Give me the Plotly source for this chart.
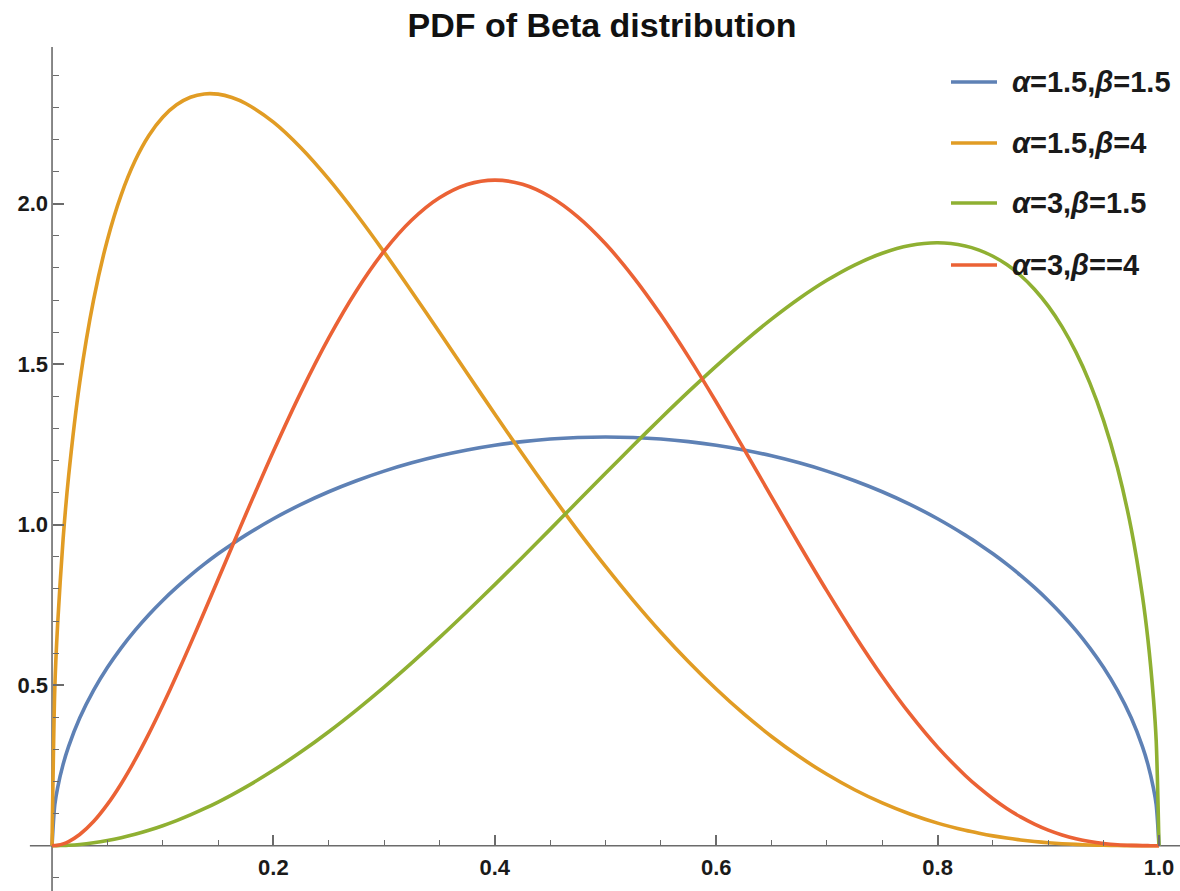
import plotly.graph_objects as go

# ---------------- data ----------------
x_vals = [0, 0.0025, 0.005, 0.01, 0.015, 0.025, 0.0375, 0.05, 0.0625, 0.075, 0.0875, 0.1,
          0.1125, 0.125, 0.1375, 0.15, 0.1625, 0.175, 0.2, 0.225, 0.25, 0.275, 0.3, 0.325,
          0.35, 0.375, 0.4, 0.425, 0.45, 0.475, 0.5, 0.525, 0.55, 0.575, 0.6, 0.625, 0.65,
          0.675, 0.7, 0.725, 0.75, 0.775, 0.8, 0.825, 0.8375, 0.85, 0.8625, 0.875, 0.8875,
          0.9, 0.9125, 0.925, 0.9375, 0.95, 0.9625, 0.975, 0.985, 0.99, 0.995, 0.9975, 1.0]

pdf_a15_b15 = [0, 0.1272, 0.1796, 0.2534, 0.3095, 0.3976, 0.4838, 0.5550, 0.6164, 0.6707,
               0.7196, 0.7640, 0.8046, 0.8422, 0.8770, 0.9093, 0.9394, 0.9676, 1.0186, 1.0634,
               1.1027, 1.1370, 1.1669, 1.1927, 1.2146, 1.2328, 1.2475, 1.2588, 1.2669, 1.2716,
               1.2732, 1.2716, 1.2669, 1.2588, 1.2475, 1.2328, 1.2146, 1.1927, 1.1669, 1.1370,
               1.1027, 1.0634, 1.0186, 0.9676, 0.9394, 0.9093, 0.8770, 0.8422, 0.8046, 0.7640,
               0.7196, 0.6707, 0.6164, 0.5550, 0.4838, 0.3976, 0.3095, 0.2534, 0.1796, 0.1272, 0]

pdf_a15_b4 = [0, 0.4885, 0.6857, 0.9551, 1.1522, 1.4426, 1.6997, 1.8872, 2.0278, 2.1336,
              2.2124, 2.2693, 2.3080, 2.3315, 2.3420, 2.3413, 2.3310, 2.3123, 2.2540, 2.1735,
              2.0764, 1.9672, 1.8493, 1.7259, 1.5993, 1.4717, 1.3448, 1.2200, 1.0986, 0.9817,
              0.8701, 0.7644, 0.6652, 0.5730, 0.4880, 0.4104, 0.3403, 0.2776, 0.2224, 0.1743,
              0.1332, 0.0987, 0.0704, 0.0479, 0.0387, 0.0306, 0.0238, 0.0180, 0.0132, 0.0093,
              0.0063, 0.0040, 0.0023, 0.0012, 0.0005, 0.0002, 0, 0, 0, 0, 0]

pdf_a3_b15 = [0, 0.0000, 0.0002, 0.0007, 0.0015, 0.0040, 0.0091, 0.0160, 0.0248, 0.0355,
              0.0480, 0.0623, 0.0782, 0.0959, 0.1152, 0.1361, 0.1586, 0.1825, 0.2348, 0.2925,
              0.3552, 0.4226, 0.4941, 0.5695, 0.6481, 0.7296, 0.8133, 0.8988, 0.9855, 1.0728,
              1.1601, 1.2466, 1.3317, 1.4145, 1.4942, 1.5698, 1.6403, 1.7046, 1.7613, 1.8089,
              1.8457, 1.8697, 1.8783, 1.8685, 1.8555, 1.8363, 1.8103, 1.7764, 1.7337, 1.6810,
              1.6164, 1.5377, 1.4420, 1.3243, 1.1773, 0.9864, 0.7798, 0.6432, 0.4594, 0.3265, 0]

pdf_a3_b4 = [0, 0.0004, 0.0015, 0.0058, 0.0129, 0.0348, 0.0752, 0.1286, 0.1931, 0.2671,
             0.3490, 0.4374, 0.5308, 0.6280, 0.7278, 0.8291, 0.9307, 1.0318, 1.2288, 1.4139,
             1.5820, 1.7291, 1.8522, 1.9491, 2.0185, 2.0599, 2.0736, 2.0603, 2.0215, 1.9589,
             1.8750, 1.7724, 1.6539, 1.5228, 1.3824, 1.2360, 1.0869, 0.9384, 0.7938, 0.6559,
             0.5273, 0.4105, 0.3072, 0.2189, 0.1806, 0.1463, 0.1160, 0.0897, 0.0673, 0.0486,
             0.0335, 0.0217, 0.0129, 0.0068, 0.0029, 0.0009, 0.0002, 0.0001, 0, 0, 0]

series_names = ["<i>α</i>=1.5,<i>β</i>=1.5", "<i>α</i>=1.5,<i>β</i>=4",
                "<i>α</i>=3,<i>β</i>=1.5", "<i>α</i>=3,<i>β</i>==4"]
series_values = [pdf_a15_b15, pdf_a15_b4, pdf_a3_b15, pdf_a3_b4]
series_colors = ["#5E81B5", "#E19C24", "#8FB032", "#EB6235"]

x_tick_vals = [0.2, 0.4, 0.6, 0.8, 1.0]
x_tick_text = ["0.2", "0.4", "0.6", "0.8", "1.0"]
x_minor_vals = [0.05, 0.1, 0.15, 0.25, 0.3, 0.35, 0.45, 0.5, 0.55, 0.65, 0.7, 0.75,
                0.85, 0.9, 0.95]
y_tick_vals = [0.5, 1.0, 1.5, 2.0]
y_tick_text = ["0.5", "1.0", "1.5", "2.0"]
y_minor_vals = [-0.1, 0.1, 0.2, 0.3, 0.4, 0.6, 0.7, 0.8, 0.9, 1.1, 1.2, 1.3, 1.4,
                1.6, 1.7, 1.8, 1.9, 2.1, 2.2, 2.3, 2.4]

title_text = "PDF of Beta distribution"

# ---------------- layout constants ----------------
W, H = 1180, 891
X_RANGE = [-0.0470, 1.0190]
Y_RANGE = [-0.1411, 2.6346]
AXIS_COLOR = "#6b6b6b"
FONT = "Liberation Sans, Arial, sans-serif"

fig = go.Figure()
for name, vals, col in zip(series_names, series_values, series_colors):
    fig.add_trace(go.Scatter(x=x_vals, y=vals, mode="lines", name=name,
                             line=dict(color=col, width=3.6, shape="spline", smoothing=0.8),
                             showlegend=False, hoverinfo="skip"))

# axis lines crossing at the origin
fig.add_shape(type="line", xref="x", yref="y", x0=0, x1=0, y0=Y_RANGE[0], y1=2.488,
              line=dict(color=AXIS_COLOR, width=1.6), layer="below")
fig.add_shape(type="line", xref="x", yref="y", x0=-0.02, x1=X_RANGE[1], y0=0, y1=0,
              line=dict(color=AXIS_COLOR, width=1.6), layer="below")

# manual legend (Mathematica style)
legend_rows_px = [82, 143, 203, 265]
for name, col, ypx in zip(series_names, series_colors, legend_rows_px):
    yp = 1 - ypx / H
    fig.add_shape(type="line", xref="paper", yref="paper", x0=951 / W, x1=997 / W,
                  y0=yp, y1=yp, line=dict(color=col, width=3.6))
    fig.add_annotation(xref="paper", yref="paper", x=1010 / W, y=yp, text="<b>" + name + "</b>",
                       showarrow=False, xanchor="left", yanchor="middle",
                       font=dict(family=FONT, size=29, color="#1a1a1a"))

fig.update_layout(
    width=W, height=H,
    margin=dict(l=0, r=0, t=0, b=0),
    paper_bgcolor="white", plot_bgcolor="white",
    showlegend=False,
    title=dict(text="<b>" + title_text + "</b>", xref="container", yref="container",
               x=602 / W, xanchor="center", y=1 - 25 / H, yanchor="middle",
               font=dict(family=FONT, size=34, color="#111111")),
    xaxis=dict(range=X_RANGE, showgrid=False, zeroline=False, showline=False,
               anchor="free", position=(0 - Y_RANGE[0]) / (Y_RANGE[1] - Y_RANGE[0]),
               tickmode="array", tickvals=x_tick_vals, ticktext=x_tick_text,
               ticks="inside", ticklen=11, tickwidth=1.6, tickcolor=AXIS_COLOR,
               ticklabelstandoff=6,
               tickfont=dict(family=FONT, size=22, color="#1a1a1a", weight="bold"),
               minor=dict(ticks="inside", tickmode="array", tickvals=x_minor_vals,
                          ticklen=6, tickwidth=1.4, tickcolor=AXIS_COLOR, showgrid=False)),
    yaxis=dict(range=Y_RANGE, showgrid=False, zeroline=False, showline=False,
               anchor="free", position=(0 - X_RANGE[0]) / (X_RANGE[1] - X_RANGE[0]),
               tickmode="array", tickvals=y_tick_vals, ticktext=y_tick_text,
               ticks="inside", ticklen=11, tickwidth=1.6, tickcolor=AXIS_COLOR,
               ticklabelstandoff=4,
               tickfont=dict(family=FONT, size=22, color="#1a1a1a", weight="bold"),
               minor=dict(ticks="inside", tickmode="array", tickvals=y_minor_vals,
                          ticklen=6, tickwidth=1.4, tickcolor=AXIS_COLOR, showgrid=False)),
)

fig.write_html("out.html")
